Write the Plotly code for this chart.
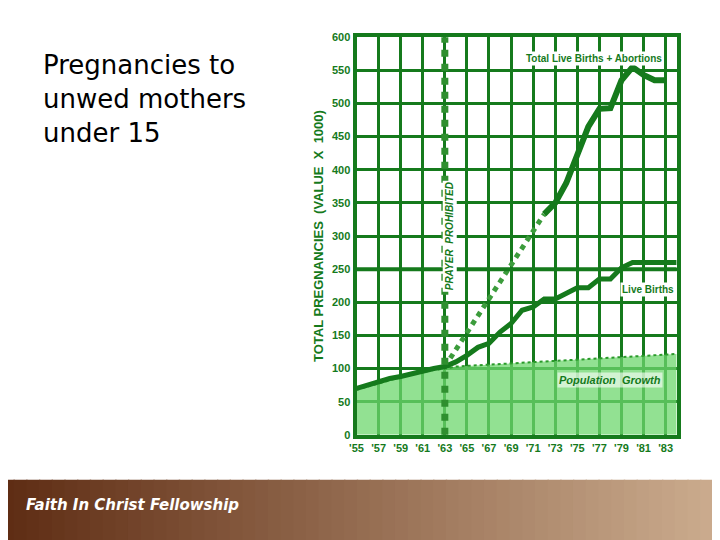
import plotly.graph_objects as go

years = list(range(1955, 1985))
live_births = [70, 75, 80, 85, 88, 92, 97, 100, 103, 110, 120, 132, 138, 155, 168, 188,
               193, 205, 205, 213, 222, 222, 235, 235, 252, 260, 260, 260, 260, 260]
pop_growth = [68, 73, 78, 83, 87, 91, 95, 98, 100, 103, 104, 105, 106, 107, 108, 109,
              110, 111, 112, 113, 114, 115, 116, 117, 118, 118, 119, 120, 121, 122]
total_dash_years = [1963, 1972]
total_dash = [103, 333]
total_years = [1972, 1973, 1974, 1975, 1976, 1977, 1978, 1979, 1980, 1981, 1982, 1983]
total_vals = [333, 350, 380, 425, 465, 492, 493, 535, 555, 543, 535, 535]
tick_years = list(range(1955, 1985, 2))
tick_text = ["<b>'%02d</b>" % (y % 100) for y in tick_years]

green = "#157a1c"
fig = go.Figure()

# population growth shaded area
fig.add_trace(go.Scatter(x=years, y=pop_growth, fill="tozeroy", mode="lines",
                         fillcolor="rgba(110,215,110,0.75)",
                         line=dict(color="#2a9a2a", width=2, dash="dot")))
fig.add_trace(go.Scatter(x=total_dash_years, y=total_dash, mode="lines",
                         line=dict(color="#3c9c3c", width=5, dash="dot")))
fig.add_trace(go.Scatter(x=total_years, y=total_vals, mode="lines",
                         line=dict(color=green, width=6)))
fig.add_trace(go.Scatter(x=years, y=live_births, mode="lines",
                         line=dict(color=green, width=5)))

fig.add_hline(y=250, line_color=green, line_width=4)
fig.add_vline(x=1963, line_color="#2f8f2f", line_width=7, line_dash="dot")

fig.add_annotation(x=1963.4, y=300, text="<b><i>PRAYER  PROHIBITED</i></b>", textangle=-90,
                   showarrow=False, font=dict(color=green, size=10, family="Liberation Sans"),
                   bgcolor="white")
fig.add_annotation(x=1976.5, y=568, text="<b>Total Live Births + Abortions</b>", showarrow=False,
                   font=dict(color=green, size=10, family="Liberation Sans"), bgcolor="white")
fig.add_annotation(x=1981.4, y=220, text="<b>Live Births</b>", showarrow=False,
                   font=dict(color=green, size=10, family="Liberation Sans"), bgcolor="white")
fig.add_annotation(x=1978, y=83, text="<b><i>Population  Growth</i></b>", showarrow=False,
                   font=dict(color=green, size=11, family="Liberation Sans"),
                   bgcolor="rgba(255,255,255,0.6)")

# slide title
fig.add_annotation(xref="paper", yref="paper", x=0.036, y=0.935, xanchor="left", yanchor="top",
                   align="left", showarrow=False,
                   text="Pregnancies to<br>unwed mothers<br>under 15",
                   font=dict(size=26, color="black", family="DejaVu Sans"))

# footer gradient bar
n = 60
for i in range(n):
    t = i / (n - 1)
    r = int(95 + t * (210 - 95))
    g = int(45 + t * (180 - 45))
    b = int(20 + t * (150 - 20))
    fig.add_shape(type="rect", xref="paper", yref="paper", x0=-0.02 + i * 1.07 / n,
                  x1=-0.02 + (i + 1) * 1.07 / n + 0.002,
                  y0=-0.05, y1=0.118, fillcolor="rgb(%d,%d,%d)" % (r, g, b), line_width=0, layer="below")
fig.add_annotation(xref="paper", yref="paper", x=0.012, y=0.05, xanchor="left", showarrow=False,
                   text="<b><i>Faith In Christ Fellowship</i></b>",
                   font=dict(size=15, color="white", family="DejaVu Sans"))

fig.update_layout(width=720, height=540, margin=dict(l=0, r=0, t=0, b=0),
                  paper_bgcolor="white", plot_bgcolor="white", showlegend=False)
fig.update_xaxes(domain=[0.479, 0.928], range=[1955, 1984], tickvals=tick_years, ticktext=tick_text,
                 showgrid=True, gridcolor=green, gridwidth=3,
                 tickfont=dict(color=green, size=11, family="Liberation Sans"),
                 showline=True, linecolor=green, linewidth=4, mirror=True, zeroline=False)
fig.update_yaxes(domain=[0.203, 0.956], range=[0, 600], dtick=50, gridcolor=green, gridwidth=3,
                 tickprefix="<b>", ticksuffix="</b>",
                 tickfont=dict(color=green, size=11, family="Liberation Sans"),
                 showline=True, linecolor=green, linewidth=4, mirror=True, zeroline=False,
                 title=dict(text="<b>TOTAL PREGNANCIES  (VALUE  X  1000)</b>",
                            font=dict(color=green, size=13, family="Liberation Sans"), standoff=6))

fig.write_html("out.html")
